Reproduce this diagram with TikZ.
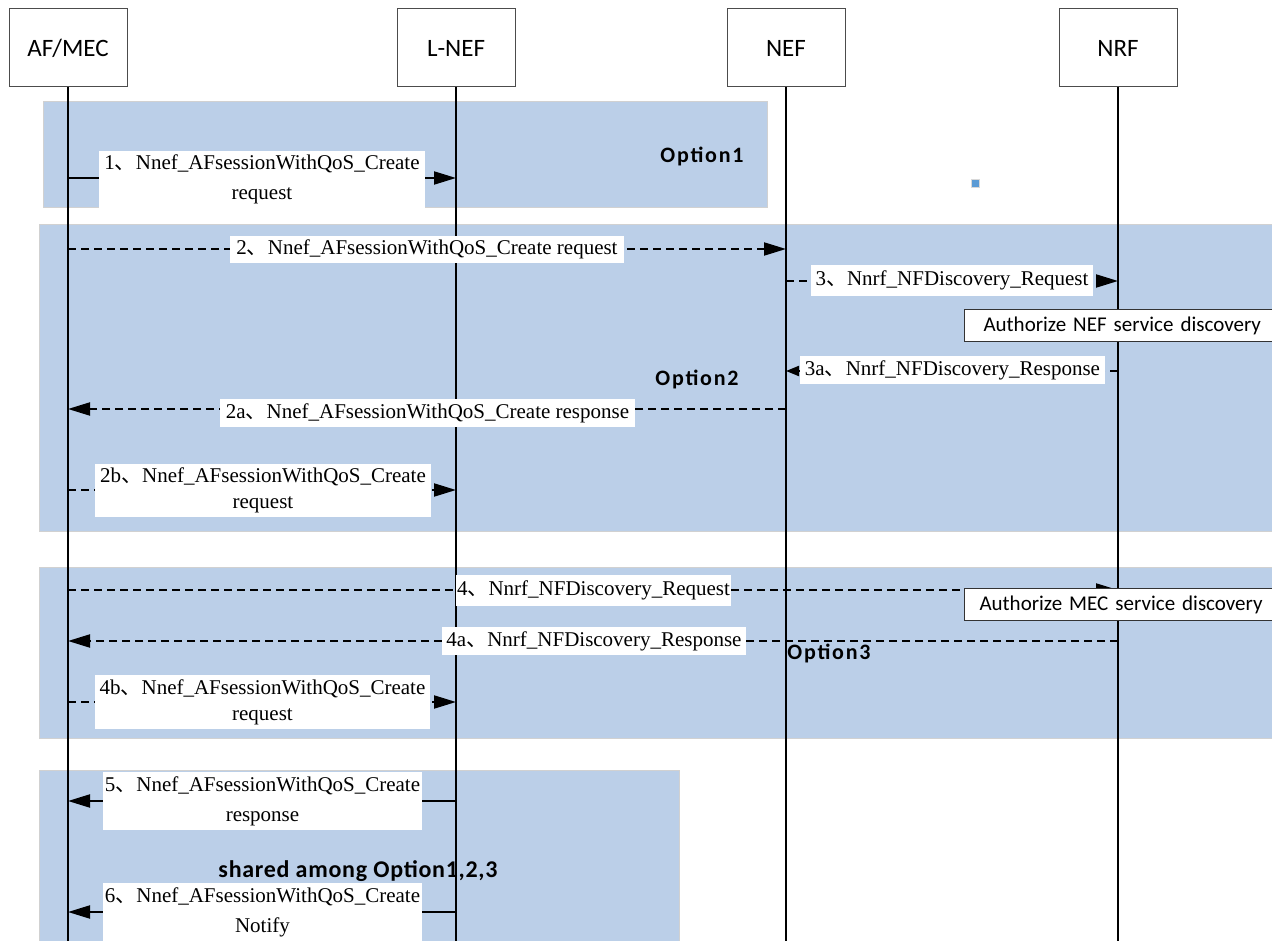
\documentclass[tikz,border=0pt]{standalone}
\usepackage{fontspec}
\setmainfont{Liberation Serif}
\newfontfamily\cjkfont{Noto Sans CJK SC}
\newfontfamily\calfont{Carlito}
\newfontfamily\optfont{Carlito}[LetterSpace=8]
\newfontfamily\sharedfont{Carlito}[LetterSpace=3]
\usetikzlibrary{arrows.meta}
\newcommand\ideocomma{{\cjkfont 、}}
\definecolor{panelblue}{RGB}{187,207,232}
\definecolor{dotblue}{RGB}{91,155,213}
\tikzset{
  panel/.style={fill=panelblue, draw=black!18, line width=1pt},
  head/.style={draw=black!70, line width=1pt, fill=white, minimum width=118pt,
    minimum height=78pt, inner sep=0pt, font=\calfont\fontsize{25}{30}\selectfont},
  life/.style={line width=2pt},
  msg/.style={line width=2pt, -{Triangle[length=22pt,width=13pt]}},
  dmsg/.style={msg, dash pattern=on 8pt off 5pt},
  smallhead/.style={-{Triangle[length=13pt,width=10pt]}},
  lbl/.style={fill=white, inner sep=0pt, align=center,
    font=\fontsize{21}{30}\selectfont},
  tightlbl/.style={lbl, font=\fontsize{21}{26}\selectfont},
  authbox/.style={draw=black!80, fill=white, line width=1pt, anchor=west,
    text width=290pt, align=left, inner xsep=19pt, inner ysep=0pt,
    minimum height=32pt, font=\calfont\fontsize{21}{25}\selectfont},
  optlbl/.style={font=\optfont\bfseries\fontsize{22}{26}\selectfont, inner sep=0pt},
  sharedlbl/.style={font=\sharedfont\bfseries\fontsize{24}{28}\selectfont, inner sep=0pt},
}
\begin{document}
\begin{tikzpicture}[x=1pt, y=-1pt]
  \useasboundingbox (0,0) rectangle (1272,941);
  \clip (0,0) rectangle (1272,941);
  \fill[white] (0,0) rectangle (1272,941);

  % option panels
  \draw[panel] (43,102) rectangle (767,208);
  \draw[panel] (39,225) rectangle (1280,531);
  \draw[panel] (39,567) rectangle (1280,738);
  \draw[panel] (39,770) rectangle (679,950);

  % small marker
  \node[fill=dotblue, draw=black!15, line width=0.5pt, minimum size=8pt, inner sep=0pt] (dot) at (975,183) {};

  % participants
  \node[head] (afmec) at (68,48)   {AF/MEC};
  \node[head] (lnef)  at (456,48)  {L-NEF};
  \node[head] (nef)   at (786,48)  {NEF};
  \node[head] (nrf)   at (1118,48) {NRF};

  % lifelines
  \coordinate (bottom) at (0,950);
  \foreach \p in {afmec,lnef,nef,nrf}
    \draw[life] (\p.south) -- (\p.south |- bottom);

  % message rows
  \coordinate (r1)  at (0,178);
  \coordinate (r2)  at (0,249);
  \coordinate (r3)  at (0,281);
  \coordinate (r3a) at (0,371);
  \coordinate (r2a) at (0,409);
  \coordinate (r2b) at (0,490);
  \coordinate (r4)  at (0,590);
  \coordinate (r4a) at (0,641);
  \coordinate (r4b) at (0,702);
  \coordinate (r5)  at (0,801);
  \coordinate (r6)  at (0,912);

  % messages
  \draw[msg]  (afmec.south |- r1)  -- (lnef.south |- r1);
  \draw[dmsg] (afmec.south |- r2)  -- (nef.south |- r2);
  \draw[dmsg] (nef.south |- r3)    -- (nrf.south |- r3);
  \draw[dmsg, smallhead] (nrf.south |- r3a) -- (nef.south |- r3a);
  \draw[dmsg] (nef.south |- r2a)   -- (afmec.south |- r2a);
  \draw[dmsg] (afmec.south |- r2b) -- (lnef.south |- r2b);
  \draw[dmsg] (afmec.south |- r4)  -- (nrf.south |- r4);
  \draw[dmsg] (nrf.south |- r4a)   -- (afmec.south |- r4a);
  \draw[dmsg] (afmec.south |- r4b) -- (lnef.south |- r4b);
  \draw[msg]  (lnef.south |- r5)   -- (afmec.south |- r5);
  \draw[msg]  (lnef.south |- r6)   -- (afmec.south |- r6);

  % message labels
  \node[lbl, minimum width=326pt, minimum height=57pt] (l1) at (262,179.5)
    {1\ideocomma Nnef\_AFsessionWithQoS\_Create\\request};
  \node[lbl, minimum width=394pt, minimum height=27pt] (l2) at (427,249.5)
    {2\ideocomma Nnef\_AFsessionWithQoS\_Create request};
  \node[lbl, minimum width=282pt, minimum height=31pt] (l3) at (952,280.5)
    {3\ideocomma Nnrf\_NFDiscovery\_Request};
  \node[lbl, minimum width=305pt, minimum height=28pt] (l3a) at (952.5,370)
    {3a\ideocomma Nnrf\_NFDiscovery\_Response};
  \node[lbl, minimum width=415pt, minimum height=28pt] (l2a) at (427.5,413)
    {2a\ideocomma Nnef\_AFsessionWithQoS\_Create response};
  \node[tightlbl, minimum width=336pt, minimum height=53pt] (l2b) at (263,490.5)
    {2b\ideocomma Nnef\_AFsessionWithQoS\_Create\\request};
  \node[lbl, minimum width=275pt, minimum height=31pt] (l4) at (593.5,590.5)
    {4\ideocomma Nnrf\_NFDiscovery\_Request};
  \node[lbl, minimum width=304pt, minimum height=28pt] (l4a) at (594,641)
    {4a\ideocomma Nnrf\_NFDiscovery\_Response};
  \node[tightlbl, minimum width=335pt, minimum height=54pt] (l4b) at (262.5,702)
    {4b\ideocomma Nnef\_AFsessionWithQoS\_Create\\request};
  \node[lbl, minimum width=319pt, minimum height=58pt] (l5) at (262.5,801)
    {5\ideocomma Nnef\_AFsessionWithQoS\_Create\\response};
  \node[lbl, minimum width=319pt, minimum height=59pt] (l6) at (262.5,912.5)
    {6\ideocomma Nnef\_AFsessionWithQoS\_Create\\Notify};

  % NRF actions
  \node[authbox] (auth1) at (964,326) {Authorize NEF service discovery};
  \node[authbox, inner xsep=15pt] (auth2) at (964,604.5) {Authorize MEC service discovery};

  % panel titles
  \node[optlbl] (o1) at (702,156) {Option1};
  \node[optlbl] (o2) at (697,379) {Option2};
  \node[optlbl] (o3) at (829,653) {Option3};
  \node[sharedlbl] (o123) at (358,871) {shared among Option1,2,3};
\end{tikzpicture}
\end{document}
